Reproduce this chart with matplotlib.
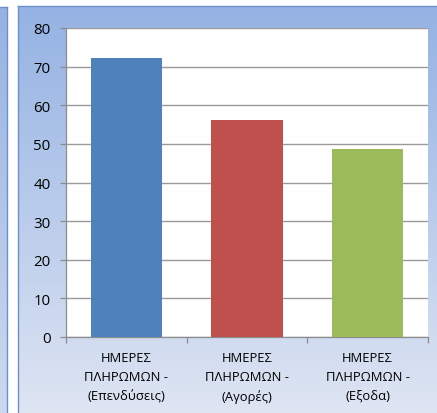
import numpy as np
import matplotlib
matplotlib.use("Agg")
import matplotlib.pyplot as plt
from matplotlib.lines import Line2D

categories = ["ΗΜΕΡΕΣ\nΠΛΗΡΩΜΩΝ -\n(Επενδύσεις)",
              "ΗΜΕΡΕΣ\nΠΛΗΡΩΜΩΝ -\n(Αγορές)",
              "ΗΜΕΡΕΣ\nΠΛΗΡΩΜΩΝ -\n(Εξοδα)"]
values = [72.3, 56.2, 48.7]
colors = ["#4F81BD", "#C0504D", "#9BBB59"]
yticks = [0, 10, 20, 30, 40, 50, 60, 70, 80]

plt.rcParams['font.family'] = ['Open Sans', 'DejaVu Sans']

W, H = 437, 414
fig = plt.figure(figsize=(W / 100, H / 100), dpi=100)
fig.patch.set_facecolor("white")

# background layer in pixel coordinates
bg = fig.add_axes([0, 0, 1, 1], zorder=0)
bg.set_xlim(0, W)
bg.set_ylim(H, 0)
bg.axis("off")

n = 200
t = np.linspace(0, 1, n)[:, None]

# left strip (neighbouring element)
top_c = np.array([150, 178, 226]) / 255
bot_c = np.array([205, 217, 238]) / 255
grad = top_c[None, :] * (1 - t) + bot_c[None, :] * t
bg.imshow(np.repeat(grad[:, None, :], 2, axis=1), extent=[0, 7, H, 8], aspect="auto", zorder=1)
bg.add_line(Line2D([7, 7], [8, H], color="#6C90CC", lw=1.0, zorder=2))
bg.add_line(Line2D([0, 7], [8, 8], color="#6C90CC", lw=1.0, zorder=2))

# main frame gradient
top_c2 = np.array([148, 178, 227]) / 255
bot_c2 = np.array([222, 229, 243]) / 255
grad2 = top_c2[None, :] * (1 - t) + bot_c2[None, :] * t
bg.imshow(np.repeat(grad2[:, None, :], 2, axis=1), extent=[18, W, H, 7], aspect="auto", zorder=1)
bg.add_line(Line2D([18, 18], [7, H], color="#6C90CC", lw=1.0, zorder=2))
bg.add_line(Line2D([18, W], [7, 7], color="#6C90CC", lw=1.0, zorder=2))

# plot area
x0, x1 = 66, 428
y_top, y_bot = 29, 338
ax = fig.add_axes([x0 / W, (H - y_bot) / H, (x1 - x0) / W, (y_bot - y_top) / H], zorder=2)
ax.set_facecolor("white")

x = np.arange(len(categories))
ax.bar(x, values, width=0.59, color=colors, zorder=3)
ax.set_xlim(-0.5, len(categories) - 0.5)
ax.set_ylim(0, 80)
ax.set_yticks(yticks)
ax.set_yticklabels([str(v) for v in yticks], fontsize=10.8, color="black")
ax.yaxis.grid(True, color="#9A9A9A", lw=1.0, zorder=1)
ax.set_axisbelow(True)

ax.set_xticks(x)
ax.set_xticklabels(categories, fontsize=9.4, linespacing=1.6)
ax.set_xticks(np.arange(len(categories) + 1) - 0.5, minor=True)
ax.tick_params(axis="x", which="major", length=0, pad=10)
ax.tick_params(axis="x", which="minor", length=4.5, color="#8C8C8C", width=0.9)
ax.tick_params(axis="y", which="major", length=4.5, color="#8C8C8C", width=0.9, pad=6.5)

for s in ["top", "right"]:
    ax.spines[s].set_visible(False)
for s in ["left", "bottom"]:
    ax.spines[s].set_color("#8C8C8C")
    ax.spines[s].set_linewidth(0.9)

fig.savefig("out.png", dpi=100)
